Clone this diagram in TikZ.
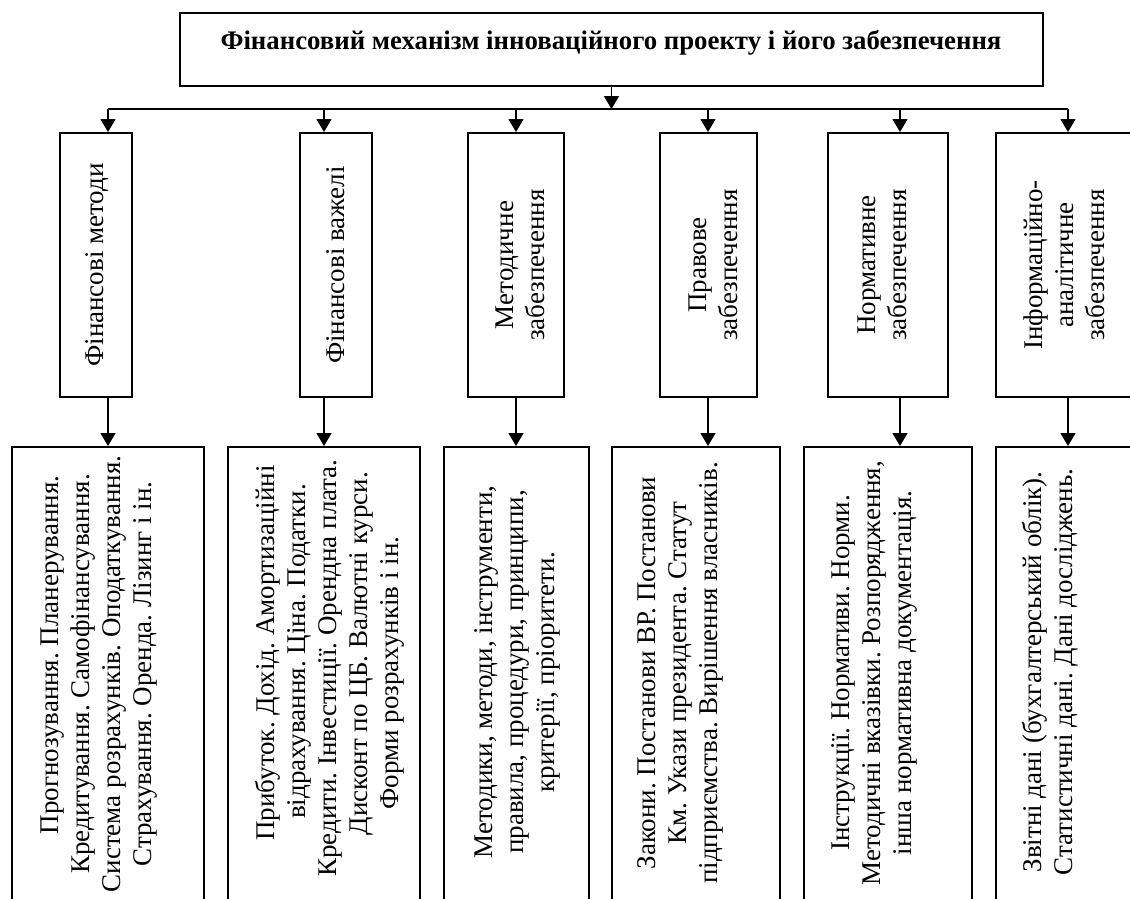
\documentclass[tikz,border=0pt]{standalone}
\usepackage{fontspec}
\setmainfont{Liberation Serif}
\usetikzlibrary{arrows.meta}
\frenchspacing
\begin{document}
\begin{tikzpicture}[x=1pt,y=-1pt,
  box/.style={draw, line width=2pt, inner sep=0pt},
  arr/.style={line width=1.3pt, -{Triangle[length=13pt,width=15pt]}},
  ln/.style={line width=1.3pt},
  txt/.style={inner sep=0pt, align=center, font=\fontsize{27}{31}\selectfont\frenchspacing},
  vtxt/.style={txt, rotate=90},
]
\useasboundingbox (0,0) rectangle (1130,898);
\clip (0,0) rectangle (1130,898);

% top box
\node[box, minimum width=863pt, minimum height=73pt] (top) at (611.5,49.5) {};
\node[txt, font=\fontsize{26.8}{31}\selectfont\bfseries, anchor=base] (title) at (611,49)
  {Фінансовий механізм інноваційного проекту і його забезпечення};

% bus
\coordinate (bus) at (611.5,109);
\coordinate (a1) at (108,109);
\coordinate (a2) at (324,109);
\coordinate (a3) at (516,109);
\coordinate (a4) at (708,109);
\coordinate (a5) at (900,109);
\coordinate (a6) at (1068,109);

% middle boxes
\node[box, minimum width=72pt, minimum height=264pt] (m1) at (96,265) {};
\node[box, minimum width=72pt, minimum height=264pt] (m2) at (336,265) {};
\node[box, minimum width=96pt, minimum height=264pt] (m3) at (516,265) {};
\node[box, minimum width=97pt, minimum height=264pt] (m4) at (708.5,265) {};
\node[box, minimum width=120pt, minimum height=264pt] (m5) at (888,265) {};
\node[box, minimum width=144pt, minimum height=264pt] (m6) at (1068,265) {};

\node[vtxt] (mt1) at (97,265) {Фінансові методи};
\node[vtxt] (mt2) at (336,265) {Фінансові важелі};
\node[vtxt] (mt3) at (520,265) {Методичне\\забезпечення};
\node[vtxt] (mt4) at (713,265) {Правове\\забезпечення};
\node[vtxt] (mt5) at (882,265) {Нормативне\\забезпечення};
\node[vtxt] (mt6) at (1064,265) {Інформаційно-\\аналітичне\\забезпечення};

% bottom boxes
\node[box, minimum width=192pt, minimum height=480pt, anchor=north] (b1) at (108,446) {};
\node[box, minimum width=192pt, minimum height=480pt, anchor=north] (b2) at (324,446) {};
\node[box, minimum width=145pt, minimum height=480pt, anchor=north] (b3) at (516.5,446) {};
\node[box, minimum width=168pt, minimum height=480pt, anchor=north] (b4) at (696,446) {};
\node[box, minimum width=168pt, minimum height=480pt, anchor=north] (b5) at (888,446) {};
\node[box, minimum width=144pt, minimum height=480pt, anchor=north] (b6) at (1068,446) {};

\node[vtxt] (bt1) at (99.5,674) {\hspace*{38pt}Прогнозування. Планерування.\\
  Кредитування. Самофінансування.\\
  Система розрахунків. Оподаткування.\\
  Страхування. Оренда. Лізинг і ін.};
\node[vtxt] (bt2) at (330,673) {\hspace*{40pt}Прибуток. Дохід. Амортизаційні\\
  \hspace*{43pt}відрахування. Ціна. Податки.\\
  \hspace*{10pt}Кредити. Інвестиції. Орендна плата.\\
  \hspace*{39pt}Дисконт по ЦБ. Валютні курси.\\
  Форми розрахунків і ін.};
\node[vtxt] (bt3) at (517,672) {Методики, методи, інструменти,\\
  правила, процедури, принципи,\\
  критерії, пріоритети.};
\node[vtxt] (bt4) at (680.5,673) {Закони. Постанови ВР. Постанови\\
  Км. Укази президента. Статут\\
  підприємства. Вирішення власників.};
\node[vtxt] (bt5) at (874.5,673) {Інструкції. Нормативи. Норми.\\
  Методичні вказівки. Розпорядження,\\
  інша нормативна документація.};
\node[vtxt] (bt6) at (1050,672) {Звітні дані (бухгалтерський облік).\\
  Статистичні дані. Дані досліджень.};

% connectors
\draw[arr] (top.south) -- (bus);
\draw[ln] (a1) -- (a6);
\foreach \i in {1,...,6}{
  \draw[arr] (a\i) -- (a\i |- m\i.north);
  \draw[arr] (a\i |- m\i.south) -- (a\i |- b\i.north);
}
\end{tikzpicture}
\end{document}
